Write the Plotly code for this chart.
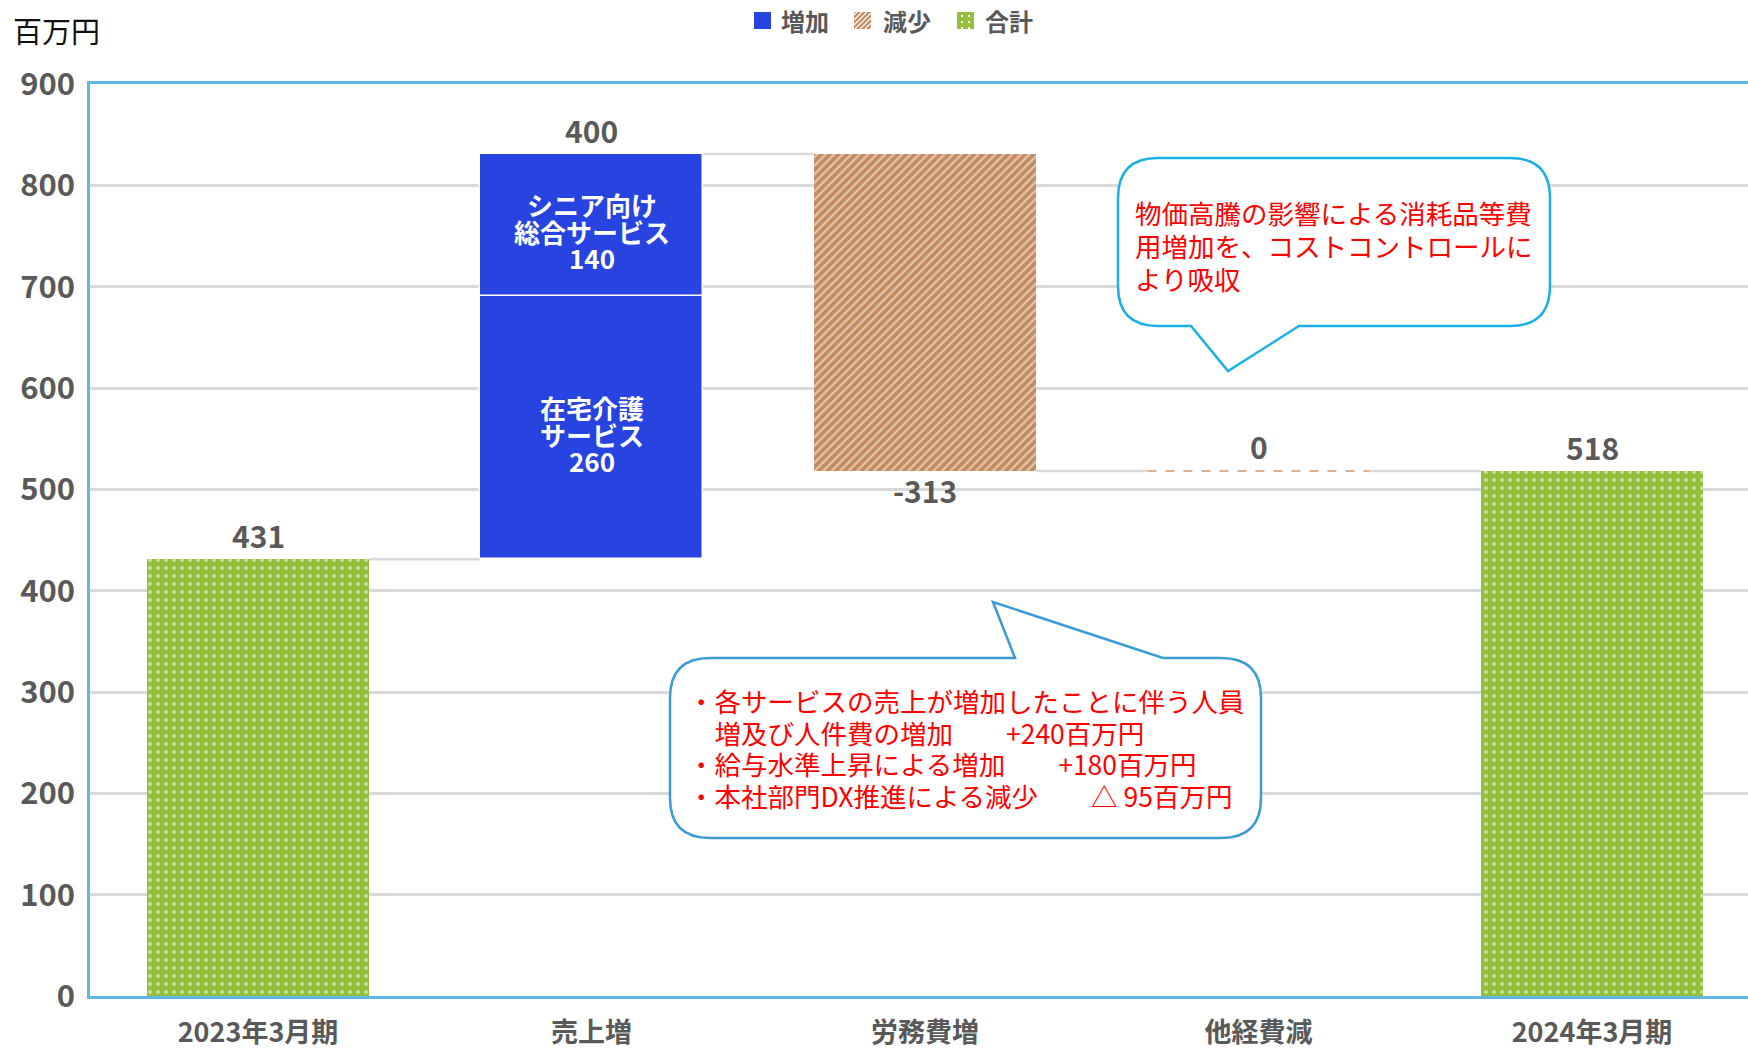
import plotly.graph_objects as go

# ---------------- data ----------------
categories = ["2023年3月期", "売上増", "労務費増", "他経費減", "2024年3月期"]
opening_total = 431
sales_part_names = [["在宅介護", "サービス"], ["シニア向け", "総合サービス"]]
sales_part_values = [260, 140]
labor_change = -313
other_change = 0
closing_total = 518
y_tick_values = [0, 100, 200, 300, 400, 500, 600, 700, 800, 900]

legend_names = ["増加", "減少", "合計"]
unit_label = "百万円"
note_cost = ["物価高騰の影響による消耗品等費", "用増加を、コストコントロールに", "より吸収"]
note_labor_items = ["・各サービスの売上が増加したことに伴う人員", "　増及び人件費の増加",
                    "・給与水準上昇による増加", "・本社部門DX推進による減少"]
note_labor_amounts = ["", "+240百万円", "+180百万円", "△ 95百万円"]

# ---------------- style ----------------
OFF = 0                      # page body margin removed via post_script
PAGE_W, PAGE_H = 1748, 1050
W, H = PAGE_W - OFF, PAGE_H - OFF
L, R, T, B = 90, 1748, 84, 996   # plot area in page pixels
BLUE = "#2743E0"
BROWN = "#C48A5E"
GREEN = "#93C13B"
GRID = "#D9D9D9"
AXIS_BLUE = "#62B6E2"
LABEL_GRAY = "#595959"
FONT = "Noto Sans CJK JP"
BAR_W = 0.666
CAT_STEP = 333.5
FIRST_CENTER = 258


def fx(x):
    return (x - OFF) / W


def fy(y):
    return 1 - (y - OFF) / H


def tight_lines(lines, glyph_px):
    """multi-line text whose glyphs are larger than the base font (tighter line spacing)."""
    return "<br>".join(f'<span style="font-size:{glyph_px}px">{ln}</span>' for ln in lines)


# cumulative levels
level_after_open = opening_total
sales_bases = [opening_total, opening_total + sales_part_values[0]]
level_after_sales = opening_total + sum(sales_part_values)
level_after_labor = level_after_sales + labor_change
level_after_other = level_after_labor + other_change

fig = go.Figure()

# 増加
for i, (v, b) in enumerate(zip(sales_part_values, sales_bases)):
    fig.add_trace(go.Bar(
        x=[categories[1]], y=[v], base=[b], name=legend_names[0],
        showlegend=False, width=BAR_W,
        marker=dict(color=BLUE, line=dict(color="white", width=1.5)),
        hoverinfo="skip",
    ))

# 減少
fig.add_trace(go.Bar(
    x=[categories[2], categories[3]], y=[labor_change, other_change],
    base=[level_after_sales, level_after_labor], name=legend_names[1], width=BAR_W,
    showlegend=False,
    marker=dict(color=BROWN, line=dict(width=0),
                pattern=dict(shape="/", fgcolor="white", size=6, solidity=0.38, fillmode="overlay")),
    hoverinfo="skip",
))

# 合計
fig.add_trace(go.Bar(
    x=[categories[0], categories[4]], y=[opening_total, closing_total], base=[0, 0],
    name=legend_names[2], width=BAR_W, showlegend=False,
    marker=dict(color=GREEN, line=dict(width=0),
                pattern=dict(shape=".", fgcolor="white", size=8, solidity=0.18, fillmode="overlay")),
    hoverinfo="skip",
))

shapes = []
# connectors
levels = [level_after_open, level_after_sales, level_after_labor, level_after_other]
for i, lv in enumerate(levels):
    shapes.append(dict(type="line", xref="x", yref="y",
                       x0=i + BAR_W / 2, x1=i + 1 - BAR_W / 2, y0=lv, y1=lv,
                       line=dict(color=GRID, width=2.5), layer="below"))
# zero-height bar indicator
shapes.append(dict(type="line", xref="x", yref="y",
                   x0=3 - BAR_W / 2, x1=3 + BAR_W / 2, y0=level_after_other, y1=level_after_other,
                   line=dict(color="#DDB090", width=2, dash="dash")))


def callout_path(x0, y0, x1, y1, r, tail):
    pts = [f"M{fx(x0 + r)},{fy(y0)}"]
    if tail[0] == "top":
        _, a, tip, b = tail
        pts.append(f"L{fx(a)},{fy(y0)} L{fx(tip[0])},{fy(tip[1])} L{fx(b)},{fy(y0)}")
    pts.append(f"L{fx(x1 - r)},{fy(y0)}")
    pts.append(f"Q{fx(x1)},{fy(y0)} {fx(x1)},{fy(y0 + r)}")
    pts.append(f"L{fx(x1)},{fy(y1 - r)}")
    pts.append(f"Q{fx(x1)},{fy(y1)} {fx(x1 - r)},{fy(y1)}")
    if tail[0] == "bottom":
        _, a, tip, b = tail
        pts.append(f"L{fx(a)},{fy(y1)} L{fx(tip[0])},{fy(tip[1])} L{fx(b)},{fy(y1)}")
    pts.append(f"L{fx(x0 + r)},{fy(y1)}")
    pts.append(f"Q{fx(x0)},{fy(y1)} {fx(x0)},{fy(y1 - r)}")
    pts.append(f"L{fx(x0)},{fy(y0 + r)}")
    pts.append(f"Q{fx(x0)},{fy(y0)} {fx(x0 + r)},{fy(y0)} Z")
    return " ".join(pts)


shapes.append(dict(type="path", xref="paper", yref="paper",
                   path=callout_path(1118, 158, 1550, 326, 40, ("bottom", 1299, (1228, 371), 1191)),
                   fillcolor="white", line=dict(color="#1AAFE6", width=2.5), layer="above"))
shapes.append(dict(type="path", xref="paper", yref="paper",
                   path=callout_path(670, 658, 1261, 838, 40, ("top", 1015, (993, 602), 1163)),
                   fillcolor="white", line=dict(color="#3A9BD5", width=2.5), layer="above"))

# ---- custom legend (swatches drawn as shapes) ----
SW = 17
leg_y0, leg_y1 = 12, 12 + SW
sw_x = [754, 854, 957]
txt_x = [779, 881, 983]
shapes.append(dict(type="rect", xref="paper", yref="paper", x0=fx(sw_x[0]), x1=fx(sw_x[0] + SW),
                   y0=fy(leg_y1), y1=fy(leg_y0), fillcolor=BLUE, line=dict(width=0)))
shapes.append(dict(type="rect", xref="paper", yref="paper", x0=fx(sw_x[1]), x1=fx(sw_x[1] + SW),
                   y0=fy(leg_y1), y1=fy(leg_y0), fillcolor=BROWN, line=dict(width=0)))
for d in range(-SW + 3, SW, 5):
    u0, u1 = max(0, d), min(SW, SW + d)
    if u1 - u0 < 1:
        continue
    shapes.append(dict(type="line", xref="paper", yref="paper",
                       x0=fx(sw_x[1] + u0), y0=fy(leg_y1 - (u0 - d)),
                       x1=fx(sw_x[1] + u1), y1=fy(leg_y1 - (u1 - d)),
                       line=dict(color="white", width=1.3)))
shapes.append(dict(type="rect", xref="paper", yref="paper", x0=fx(sw_x[2]), x1=fx(sw_x[2] + SW),
                   y0=fy(leg_y1), y1=fy(leg_y0), fillcolor=GREEN, line=dict(width=0)))
for dx in (5, 12):
    for dy in (4, 10, 16):
        shapes.append(dict(type="rect", xref="paper", yref="paper",
                           x0=fx(sw_x[2] + dx - 1), x1=fx(sw_x[2] + dx + 1),
                           y0=fy(leg_y0 + dy + 1), y1=fy(leg_y0 + dy - 1),
                           fillcolor="white", line=dict(width=0)))

annotations = []
for nm, tx in zip(legend_names, txt_x):
    annotations.append(dict(xref="paper", yref="paper", x=fx(tx), y=fy(20), text=nm, showarrow=False,
                            xanchor="left", yanchor="middle",
                            font=dict(family=FONT, size=24, color=LABEL_GRAY, weight="bold")))

# values inside the sales segments (one text block per segment, tight line spacing)
for names, v, b in zip(sales_part_names, sales_part_values, sales_bases):
    annotations.append(dict(x=categories[1], y=b + v / 2, text=tight_lines(names + [str(v)], 26),
                            showarrow=False, yanchor="middle", yshift=-6,
                            font=dict(family=FONT, size=20.5, color="white", weight="bold")))

num_font = dict(family=FONT, size=30, color=LABEL_GRAY, weight="bold")
annotations.append(dict(x=categories[0], y=opening_total, text=str(opening_total), showarrow=False,
                        yanchor="bottom", yshift=0, font=num_font))
annotations.append(dict(x=categories[1], y=level_after_sales, text=str(sum(sales_part_values)), showarrow=False,
                        yanchor="bottom", yshift=0, font=num_font))
annotations.append(dict(x=categories[2], y=level_after_labor, text=str(labor_change), showarrow=False,
                        yanchor="top", yshift=5, font=num_font))
annotations.append(dict(x=categories[3], y=level_after_other, text=str(other_change), showarrow=False,
                        yanchor="bottom", yshift=1, font=num_font))
annotations.append(dict(x=categories[4], y=closing_total, text=str(closing_total), showarrow=False,
                        yanchor="bottom", yshift=0, font=num_font))

annotations.append(dict(xref="paper", yref="paper", x=fx(11), y=fy(30), text=unit_label, showarrow=False,
                        xanchor="left", yanchor="middle", font=dict(family=FONT, size=29, color="#111111")))

# callout texts
annotations.append(dict(xref="paper", yref="paper", x=fx(1133), y=fy(245),
                        text=tight_lines(note_cost, 26.5), showarrow=False, align="left",
                        xanchor="left", yanchor="middle",
                        font=dict(family=FONT, size=25.4, color="#FF0000")))
labor_lines = [it + ("　　" + amt if amt else "") for it, amt in zip(note_labor_items, note_labor_amounts)]
annotations.append(dict(xref="paper", yref="paper", x=fx(686), y=fy(748),
                        text=tight_lines(labor_lines, 26.5), showarrow=False, align="left",
                        xanchor="left", yanchor="middle",
                        font=dict(family=FONT, size=24.4, color="#FF0000")))

fig.update_layout(
    width=W, height=H, autosize=False,
    margin=dict(l=0, r=0, t=0, b=0, pad=0),
    paper_bgcolor="white", plot_bgcolor="white",
    barmode="overlay", bargap=0,
    showlegend=False, hovermode=False,
    shapes=shapes, annotations=annotations,
    font=dict(family=FONT),
    xaxis=dict(type="category", categoryorder="array", categoryarray=categories,
               domain=[fx(L), fx(R)],
               range=[-(FIRST_CENTER - L) / CAT_STEP, (R - FIRST_CENTER) / CAT_STEP],
               showline=True, linecolor=AXIS_BLUE, linewidth=2.5, mirror=True,
               showgrid=False, zeroline=False, ticks="outside", ticklen=11,
               tickcolor="rgba(0,0,0,0)", automargin=False,
               tickfont=dict(family=FONT, size=27, color=LABEL_GRAY, weight="bold")),
    yaxis=dict(range=[0, 900], domain=[fy(B), fy(T)],
               tickvals=y_tick_values, ticktext=[str(v) for v in y_tick_values],
               showline=True, linecolor=AXIS_BLUE, linewidth=2.5, mirror=False,
               showgrid=True, gridcolor=GRID, gridwidth=2.5, zeroline=False,
               ticks="outside", ticklen=6, tickcolor="rgba(0,0,0,0)", automargin=False,
               tickfont=dict(family=FONT, size=31, color=LABEL_GRAY, weight="bold")),
)

fig.write_html("out.html", config={"displayModeBar": False},
               post_script="document.body.style.margin='0';document.body.style.overflow='hidden';")
